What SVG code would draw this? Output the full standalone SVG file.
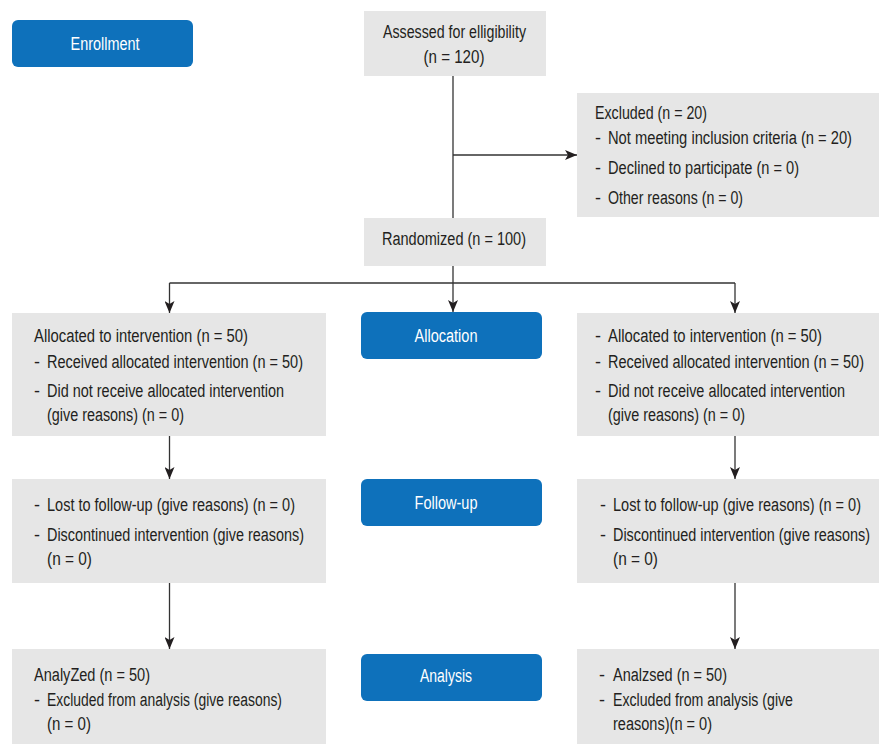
<svg xmlns="http://www.w3.org/2000/svg" width="879" height="744" viewBox="0 0 879 744">
<defs>
<style>
.box{fill:#e6e6e6}
.btn{fill:#0e71bb}
.t{font-family:"Liberation Sans",Arial,sans-serif;font-size:18px;fill:#231f20}
.w{font-family:"Liberation Sans",Arial,sans-serif;font-size:18px;fill:#ffffff;text-anchor:middle}
.c{text-anchor:middle}
.ln{stroke:#333333;stroke-width:1.3;fill:none}
.ar{marker-end:url(#arr)}
</style>
<marker id="arr" markerWidth="12" markerHeight="10" refX="12" refY="5" orient="auto" markerUnits="userSpaceOnUse">
<path d="M0,0 L12,5 L0,10 L3,5 z" fill="#231f20"/>
</marker>
</defs>
<rect width="879" height="744" fill="#ffffff"/>

<g id="connectors">
<line class="ln" x1="453" y1="76" x2="453" y2="218"/>
<line class="ln ar" x1="453" y1="155" x2="577" y2="155"/>
<line class="ln" x1="453" y1="266" x2="453" y2="283"/>
<line class="ln" x1="169.5" y1="283" x2="735" y2="283"/>
<line class="ln ar" x1="169.5" y1="283" x2="169.5" y2="313"/>
<line class="ln ar" x1="453" y1="283" x2="453" y2="312"/>
<line class="ln ar" x1="735" y1="283" x2="735" y2="313"/>
<line class="ln ar" x1="169.5" y1="436" x2="169.5" y2="479"/>
<line class="ln ar" x1="735" y1="436" x2="735" y2="479"/>
<line class="ln ar" x1="169.5" y1="583" x2="169.5" y2="649"/>
<line class="ln ar" x1="735" y1="583" x2="735" y2="649"/>
</g>

<g id="enrollment">
<rect class="btn" x="12" y="20" width="181" height="47" rx="6"/>
<text class="w" x="105" y="50" textLength="69" lengthAdjust="spacingAndGlyphs">Enrollment</text>
</g>

<g id="assessed">
<rect class="box" x="364" y="11" width="182" height="65"/>
<text class="t c" x="454.5" y="38" textLength="143" lengthAdjust="spacingAndGlyphs">Assessed for elligibility</text>
<text class="t c" x="454" y="63" textLength="61" lengthAdjust="spacingAndGlyphs">(n = 120)</text>
</g>

<g id="excluded">
<rect class="box" x="577" y="93" width="302" height="124"/>
<text class="t" x="595" y="119" textLength="112" lengthAdjust="spacingAndGlyphs">Excluded (n = 20)</text>
<text class="t" x="595" y="144">-</text><text class="t" x="608" y="144" textLength="244" lengthAdjust="spacingAndGlyphs">Not meeting inclusion criteria (n = 20)</text>
<text class="t" x="595" y="174">-</text><text class="t" x="608" y="174" textLength="191" lengthAdjust="spacingAndGlyphs">Declined to participate (n = 0)</text>
<text class="t" x="595" y="204">-</text><text class="t" x="608" y="204" textLength="135" lengthAdjust="spacingAndGlyphs">Other reasons (n = 0)</text>
</g>

<g id="randomized">
<rect class="box" x="364" y="218" width="182" height="48"/>
<text class="t c" x="454" y="245" textLength="144" lengthAdjust="spacingAndGlyphs">Randomized (n = 100)</text>
</g>

<g id="alloc-left">
<rect class="box" x="12" y="313" width="314" height="123"/>
<text class="t" x="34" y="342" textLength="214" lengthAdjust="spacingAndGlyphs">Allocated to intervention (n = 50)</text>
<text class="t" x="34" y="368">-</text><text class="t" x="47" y="368" textLength="256" lengthAdjust="spacingAndGlyphs">Received allocated intervention (n = 50)</text>
<text class="t" x="34" y="397">-</text><text class="t" x="47" y="397" textLength="237" lengthAdjust="spacingAndGlyphs">Did not receive allocated intervention</text>
<text class="t" x="47" y="421" textLength="137" lengthAdjust="spacingAndGlyphs">(give reasons) (n = 0)</text>
</g>

<g id="allocation">
<rect class="btn" x="361" y="312" width="181" height="47" rx="6"/>
<text class="w" x="446" y="342" textLength="63" lengthAdjust="spacingAndGlyphs">Allocation</text>
</g>

<g id="alloc-right">
<rect class="box" x="577" y="313" width="302" height="123"/>
<text class="t" x="595" y="342">-</text><text class="t" x="608" y="342" textLength="214" lengthAdjust="spacingAndGlyphs">Allocated to intervention (n = 50)</text>
<text class="t" x="595" y="368">-</text><text class="t" x="608" y="368" textLength="256" lengthAdjust="spacingAndGlyphs">Received allocated intervention (n = 50)</text>
<text class="t" x="595" y="397">-</text><text class="t" x="608" y="397" textLength="237" lengthAdjust="spacingAndGlyphs">Did not receive allocated intervention</text>
<text class="t" x="608" y="421" textLength="137" lengthAdjust="spacingAndGlyphs">(give reasons) (n = 0)</text>
</g>

<g id="follow-left">
<rect class="box" x="12" y="479" width="314" height="104"/>
<text class="t" x="34" y="511">-</text><text class="t" x="47" y="511" textLength="248" lengthAdjust="spacingAndGlyphs">Lost to follow-up (give reasons) (n = 0)</text>
<text class="t" x="34" y="541">-</text><text class="t" x="47" y="541" textLength="257" lengthAdjust="spacingAndGlyphs">Discontinued intervention (give reasons)</text>
<text class="t" x="47" y="565" textLength="45" lengthAdjust="spacingAndGlyphs">(n = 0)</text>
</g>

<g id="follow-up">
<rect class="btn" x="361" y="479" width="181" height="47" rx="6"/>
<text class="w" x="446" y="509" textLength="63" lengthAdjust="spacingAndGlyphs">Follow-up</text>
</g>

<g id="follow-right">
<rect class="box" x="577" y="479" width="302" height="104"/>
<text class="t" x="600" y="511">-</text><text class="t" x="613" y="511" textLength="248" lengthAdjust="spacingAndGlyphs">Lost to follow-up (give reasons) (n = 0)</text>
<text class="t" x="600" y="541">-</text><text class="t" x="613" y="541" textLength="257" lengthAdjust="spacingAndGlyphs">Discontinued intervention (give reasons)</text>
<text class="t" x="613" y="565" textLength="45" lengthAdjust="spacingAndGlyphs">(n = 0)</text>
</g>

<g id="analysis-left">
<rect class="box" x="12" y="649" width="314" height="95"/>
<text class="t" x="34" y="681" textLength="116" lengthAdjust="spacingAndGlyphs">AnalyZed (n = 50)</text>
<text class="t" x="34" y="706">-</text><text class="t" x="47" y="706" textLength="235" lengthAdjust="spacingAndGlyphs">Excluded from analysis (give reasons)</text>
<text class="t" x="47" y="730" textLength="44" lengthAdjust="spacingAndGlyphs">(n = 0)</text>
</g>

<g id="analysis">
<rect class="btn" x="361" y="654" width="181" height="47" rx="6"/>
<text class="w" x="446" y="682" textLength="52" lengthAdjust="spacingAndGlyphs">Analysis</text>
</g>

<g id="analysis-right">
<rect class="box" x="577" y="649" width="302" height="95"/>
<text class="t" x="599" y="681">-</text><text class="t" x="613" y="681" textLength="114" lengthAdjust="spacingAndGlyphs">Analzsed (n = 50)</text>
<text class="t" x="599" y="706">-</text><text class="t" x="613" y="706" textLength="180" lengthAdjust="spacingAndGlyphs">Excluded from analysis (give</text>
<text class="t" x="613" y="730" textLength="99" lengthAdjust="spacingAndGlyphs">reasons)(n = 0)</text>
</g>
</svg>
